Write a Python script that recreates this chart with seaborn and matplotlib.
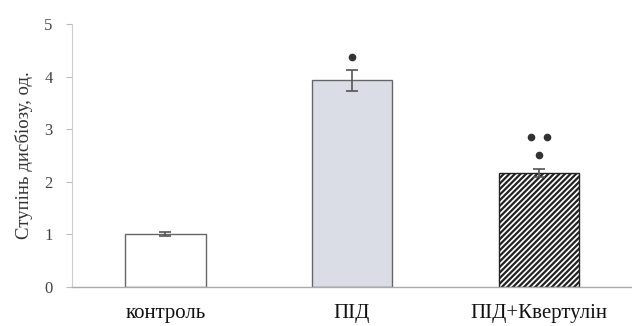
import matplotlib
matplotlib.use("Agg")
import matplotlib.pyplot as plt
import seaborn as sns
import pandas as pd

categories = ["контроль", "ПІД", "ПІД+Квертулін"]
values = [1.0, 3.93, 2.17]
errors = [0.04, 0.20, 0.07]
y_ticks = [0, 1, 2, 3, 4, 5]
y_label = "Ступінь дисбіозу, од."
# significance dots: (category index offset, y value)
sig_x = [1.0, 1.958, 2.042, 2.0]
sig_y = [4.37, 2.85, 2.85, 2.51]

sns.set_theme(style="white")
plt.rcParams["font.family"] = ["Liberation Serif", "DejaVu Serif"]
plt.rcParams["hatch.linewidth"] = 1.6

df = pd.DataFrame({"group": categories, "value": values})

fig = plt.figure(figsize=(6.32, 3.26), dpi=100)
ax = fig.add_axes([0.114, 0.12, 0.886, 0.806])

sns.barplot(data=df, x="group", y="value", ax=ax, width=0.43,
            color="white", edgecolor="#666666", linewidth=1.0, errorbar=None)

fills = ["white", "#dadde5", "white"]
hatches = [None, None, "//////"]
for p, fc, h in zip(ax.patches, fills, hatches):
    p.set_facecolor(fc)
    if h:
        p.set_hatch(h)
        p.set_edgecolor("#222222")

ax.errorbar(range(len(values)), values, yerr=errors, fmt="none",
            ecolor="#555555", elinewidth=1.2, capsize=4, capthick=1.2)

ax.plot(sig_x, sig_y, linestyle="none", marker="o", markersize=4.5,
        color="#333333")

ax.set_xlim(-0.5, 2.5)
ax.set_ylim(0, 5)
ax.set_yticks(y_ticks)
ax.set_yticklabels([str(t) for t in y_ticks], fontsize=12, color="#444444")
ax.set_xlabel("")
ax.set_ylabel(y_label, fontsize=13.5, color="#333333", labelpad=8)
ax.tick_params(axis="x", length=0, labelsize=15, pad=12, labelcolor="#111111")
ax.tick_params(axis="y", length=4, width=0.8, color="#bbbbbb", left=True, pad=10)

for s in ["top", "right"]:
    ax.spines[s].set_visible(False)
ax.spines["left"].set_color("#cccccc")
ax.spines["bottom"].set_color("#aaaaaa")
ax.spines["left"].set_linewidth(0.8)
ax.spines["bottom"].set_linewidth(1.0)

fig.savefig("out.png", dpi=100, facecolor="white")
